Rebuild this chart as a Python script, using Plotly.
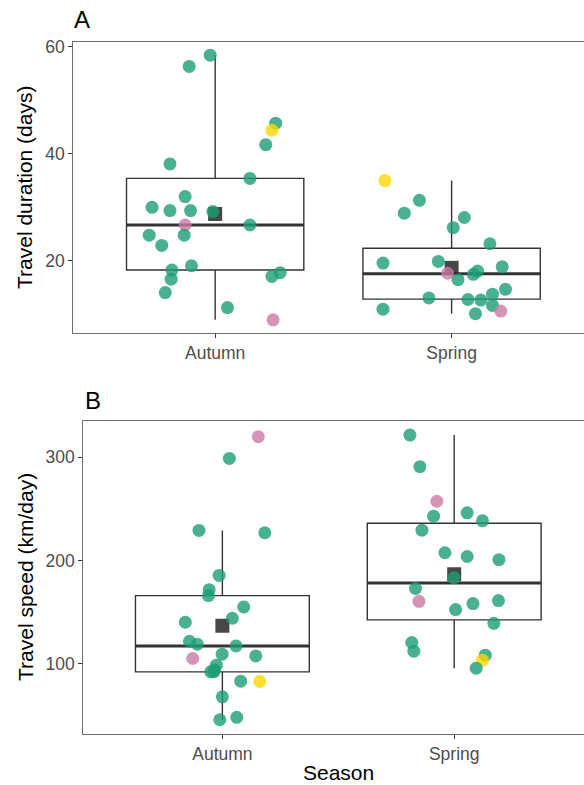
import numpy as np
import plotly.graph_objects as go

# ---------------- data ----------------
seasons = ["Autumn", "Spring"]

# Panel A: travel duration (days)
dur_autumn = [58.4, 56.3, 45.7, 44.4, 41.7, 38.1, 35.4, 32.0, 30.0, 29.4, 29.4, 29.2, 26.7,
              26.7, 24.8, 24.8, 22.9, 19.1, 18.3, 16.6, 17.8, 17.1, 14.1, 11.3, 9.0]
dur_autumn_jit = [-0.021, -0.110, 0.256, 0.240, 0.214, -0.191, 0.147, -0.127, -0.267, -0.191,
                  -0.104, -0.010, -0.127, 0.147, -0.279, -0.131, -0.226, -0.100, -0.183, -0.186,
                  0.275, 0.240, -0.211, 0.052, 0.245]
dur_autumn_grp = ["g", "g", "g", "y", "g", "g", "g", "g", "g", "g", "g", "g", "p",
                  "g", "g", "g", "g", "g", "g", "g", "g", "g", "g", "g", "p"]

dur_spring = [35.0, 31.3, 28.9, 28.1, 26.2, 23.2, 19.6, 19.9, 18.9, 18.1, 17.5, 17.7, 16.5,
              14.7, 13.8, 13.1, 12.8, 12.7, 11.7, 11.0, 10.65, 10.15]
dur_spring_jit = [-0.282, -0.136, -0.200, 0.054, 0.007, 0.162, -0.290, -0.056, 0.214, 0.110,
                  0.092, -0.017, 0.027, 0.228, 0.173, -0.096, 0.069, 0.124, 0.173, -0.290,
                  0.208, 0.101]
dur_spring_grp = ["y", "g", "g", "g", "g", "g", "g", "g", "g", "g", "g", "p", "g",
                  "g", "g", "g", "g", "g", "g", "g", "p", "g"]

# Panel B: travel speed (km/day)
spd_autumn = [320, 299, 229.2, 227, 185.7, 171.9, 166.1, 155.1, 140.3, 144.2, 121.9, 119, 117.4,
              109.4, 107.7, 105.2, 98.7, 92.3, 92.3, 94.0, 83.3, 83.0, 68.1, 45.9, 48.2]
spd_autumn_jit = [0.155, 0.030, -0.101, 0.183, -0.014, -0.057, -0.060, 0.092, -0.160, 0.043,
                  -0.142, -0.108, 0.059, -0.001, 0.144, -0.128, -0.026, -0.037, -0.050, -0.034,
                  0.079, 0.161, 0.000, -0.011, 0.062]
spd_autumn_grp = ["p", "g", "g", "g", "g", "g", "g", "g", "g", "g", "g", "g", "g",
                  "g", "g", "p", "g", "g", "g", "g", "g", "y", "g", "g", "g"]

spd_spring = [321.6, 291, 257.5, 246.3, 243, 238.5, 229.5, 207.6, 204, 200.9, 183.5, 173.1, 160.6,
              158.4, 161.3, 152.6, 139.3, 120.7, 112.3, 108.4, 103.6, 95.8]
spd_spring_jit = [-0.191, -0.148, -0.075, 0.056, -0.089, 0.122, -0.139, -0.040, 0.056, 0.193,
                  -0.001, -0.167, -0.152, 0.081, 0.191, 0.006, 0.171, -0.183, -0.174, 0.134,
                  0.122, 0.095]
spd_spring_grp = ["g", "g", "p", "g", "g", "g", "g", "g", "g", "g", "g", "g", "p",
                  "g", "g", "g", "g", "g", "g", "g", "y", "g"]

y_titles = ["Travel duration (days)", "Travel speed (km/day)"]
x_title = "Season"
panel_labels = ["A", "B"]
ticks_A = [20, 40, 60]
ticks_B = [100, 200, 300]

# ---------------- styles ----------------
W, H = 584, 785
group_colors = {"g": "#1B9E77", "p": "#CC79A7", "y": "#FFD700"}
FONT = "Liberation Sans, Arial, sans-serif"
BOXW = 0.75


def px_x(p):
    return p / W


def px_y(p):
    return 1 - p / H


def box_stats(vals):
    v = np.asarray(vals, dtype=float)
    q1, med, q3 = np.percentile(v, [25, 50, 75])
    iqr = q3 - q1
    lo = v[v >= q1 - 1.5 * iqr].min()
    hi = v[v <= q3 + 1.5 * iqr].max()
    return q1, med, q3, lo, hi, v.mean()


fig = go.Figure()

panels = [
    ("x", "y", [(dur_autumn, dur_autumn_jit, dur_autumn_grp), (dur_spring, dur_spring_jit, dur_spring_grp)]),
    ("x2", "y2", [(spd_autumn, spd_autumn_jit, spd_autumn_grp), (spd_spring, spd_spring_jit, spd_spring_grp)]),
]

for xa, ya, groups in panels:
    for i, (vals, jit, grp) in enumerate(groups):
        pos = i + 1
        q1, med, q3, lo, hi, mean = box_stats(vals)
        fig.add_trace(go.Box(
            x=[pos], q1=[q1], median=[med], q3=[q3], lowerfence=[lo], upperfence=[hi],
            width=BOXW, whiskerwidth=0, boxpoints=False,
            line=dict(color="#333333", width=1.4), fillcolor="rgba(0,0,0,0)",
            xaxis=xa, yaxis=ya, showlegend=False, hoverinfo="skip"))
        fig.add_trace(go.Scatter(
            x=[pos - BOXW / 2, pos + BOXW / 2], y=[med, med], mode="lines",
            line=dict(color="#333333", width=3), xaxis=xa, yaxis=ya,
            showlegend=False, hoverinfo="skip"))
        fig.add_trace(go.Scatter(
            x=[pos], y=[mean], mode="markers",
            marker=dict(symbol="square", size=14, color="rgba(30,30,30,0.82)"),
            xaxis=xa, yaxis=ya, showlegend=False, hoverinfo="skip"))
        fig.add_trace(go.Scatter(
            x=[pos + j for j in jit], y=vals, mode="markers",
            marker=dict(size=13, color=[group_colors[g] for g in grp], opacity=0.8,
                        line=dict(width=0)),
            xaxis=xa, yaxis=ya, showlegend=False, hoverinfo="skip"))

xcommon = dict(range=[0.4, 2.56], tickvals=[1, 2], ticktext=seasons, showgrid=False,
               zeroline=False, showline=True, mirror=True, linecolor="#6e6e6e", linewidth=1,
               ticks="outside", ticklen=4, tickcolor="#333333", tickwidth=1,
               tickfont=dict(family=FONT, size=17.5, color="#4D4D4D"), automargin=False)
ycommon = dict(showgrid=False, zeroline=False, showline=True, mirror=False,
               linecolor="#6e6e6e", linewidth=1, ticks="outside", ticklen=4,
               tickcolor="#333333", tickwidth=1,
               tickfont=dict(family=FONT, size=17.5, color="#4D4D4D"), automargin=False)

fig.update_layout(
    width=W, height=H, autosize=False,
    margin=dict(l=0, r=0, t=0, b=0),
    paper_bgcolor="white", plot_bgcolor="white",
    xaxis=dict(domain=[px_x(73.3), 1], anchor="y", **xcommon),
    yaxis=dict(domain=[px_y(333), px_y(42)], anchor="x", range=[6.55, 60.85],
               tickvals=ticks_A, **ycommon),
    xaxis2=dict(domain=[px_x(83.3), 1], anchor="y2", **xcommon),
    yaxis2=dict(domain=[px_y(734), px_y(421)], anchor="x2", range=[32.1, 335.2],
                tickvals=ticks_B, **ycommon),
)

ann = [
    dict(text=panel_labels[0], x=px_x(72), y=px_y(19.5), xanchor="left", yanchor="middle",
         font=dict(family=FONT, size=24, color="black")),
    dict(text=panel_labels[1], x=px_x(82.5), y=px_y(400), xanchor="left", yanchor="middle",
         font=dict(family=FONT, size=24, color="black")),
    dict(text=y_titles[0], x=px_x(25), y=px_y(188), xanchor="center", yanchor="middle",
         textangle=-90, font=dict(family=FONT, size=21, color="black")),
    dict(text=y_titles[1], x=px_x(25), y=px_y(577), xanchor="center", yanchor="middle",
         textangle=-90, font=dict(family=FONT, size=21, color="black")),
    dict(text=x_title, x=px_x(338), y=px_y(772), xanchor="center", yanchor="middle",
         font=dict(family=FONT, size=21, color="black")),
]
for a in ann:
    a.update(xref="paper", yref="paper", showarrow=False)
fig.update_layout(annotations=ann)

fig.write_html("out.html", config={"displayModeBar": False},
               post_script="document.body.style.margin='0';document.body.style.overflow='hidden';")
